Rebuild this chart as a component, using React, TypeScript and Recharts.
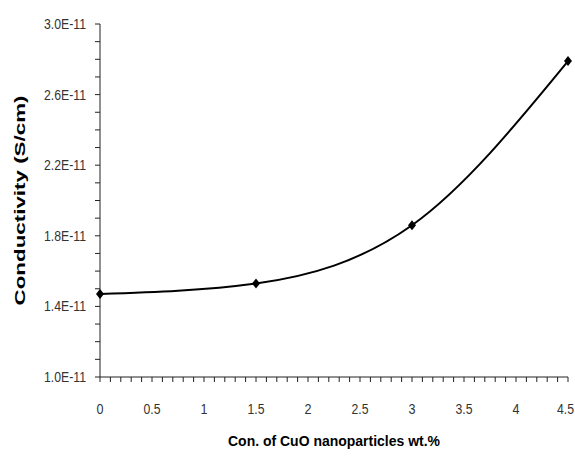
import { LineChart, Line, XAxis, YAxis, Label } from 'recharts';

// CuO loading (wt.%) and conductivity in units of 1E-11 S/cm
const concentration = [0, 1.5, 3, 4.5];
const conductivityE11 = [1.47, 1.53, 1.86, 2.79];

const xMajorTicks = [0, 0.5, 1, 1.5, 2, 2.5, 3, 3.5, 4, 4.5];
const yMajorTicks = [1.0, 1.4, 1.8, 2.2, 2.6, 3.0];

const xLabel = 'Con. of CuO nanoparticles wt.%';
const yLabel = 'Conductivity (S/cm)';

const data = concentration.map((c, i) => ({ c, v: conductivityE11[i] }));

// minor ticks every 0.1 on both axes
const xTicks: number[] = [];
for (let i = 0; i <= 45; i++) xTicks.push(i / 10);
const yTicks: number[] = [];
for (let i = 10; i <= 30; i++) yTicks.push(i / 10);

const isMajor = (v: number, majors: number[]) =>
  majors.some((m) => Math.abs(m - v) < 1e-6);

const FONT = '"Liberation Sans", Arial, sans-serif';

// narrow-looking tick text, squeezed horizontally like the original
const XTick = (props: any) => {
  const { x, y, payload } = props;
  const v = payload.value as number;
  if (!isMajor(v, xMajorTicks)) return null;
  const s = String(v);
  const w = s.length === 1 ? 7 : 17;
  // keep the last label inside the picture
  const cx = Math.min(x, 574 - w / 2);
  return (
    <text
      x={cx}
      y={y + 18}
      textAnchor="middle"
      dominantBaseline="central"
      fontFamily={FONT}
      fontSize={15}
      fill="#333"
      textLength={w}
      lengthAdjust="spacingAndGlyphs"
    >
      {s}
    </text>
  );
};

const YTick = (props: any) => {
  const { x, y, payload } = props;
  const v = payload.value as number;
  if (!isMajor(v, yMajorTicks)) return null;
  return (
    <text
      x={x - 1}
      y={y}
      textAnchor="end"
      dominantBaseline="central"
      fontFamily={FONT}
      fontSize={14}
      fill="#333"
      textLength={42}
      lengthAdjust="spacingAndGlyphs"
    >
      {`${v.toFixed(1)}E-11`}
    </text>
  );
};

const Diamond = (props: any) => {
  const { cx, cy } = props;
  if (cx == null || cy == null) return null;
  return (
    <polygon
      points={`${cx},${cy - 5} ${cx + 4},${cy} ${cx},${cy + 5} ${cx - 4},${cy}`}
      fill="#000"
    />
  );
};

export default function App() {
  return (
    <div style={{ position: 'absolute', left: 0, top: 0, background: '#fff' }}>
      <LineChart
        width={575}
        height={458}
        data={data}
        margin={{ top: 24, right: 7, bottom: 0, left: 0 }}
      >
        <XAxis
          dataKey="c"
          type="number"
          domain={[0, 4.5]}
          ticks={xTicks}
          interval={0}
          height={81}
          stroke="#222"
          tickSize={5}
          tickMargin={8}
          tick={<XTick />}
        >
          <Label
            content={({ viewBox }: any) => (
              <text
                x={viewBox.x + viewBox.width / 2}
                y={440}
                textAnchor="middle"
                dominantBaseline="central"
                fontFamily={FONT}
                fontWeight="bold"
                fontSize={15}
                textLength={212}
                lengthAdjust="spacingAndGlyphs"
                fill="#000"
              >
                {xLabel}
              </text>
            )}
          />
        </XAxis>
        <YAxis
          type="number"
          domain={[1, 3]}
          ticks={yTicks}
          interval={0}
          width={100}
          stroke="#222"
          tickSize={5}
          tickMargin={8}
          tick={<YTick />}
        >
          <Label
            content={({ viewBox }: any) => {
              const cx = 20;
              const cy = viewBox.y + viewBox.height / 2;
              return (
                <text
                  x={cx}
                  y={cy}
                  transform={`rotate(-90 ${cx} ${cy})`}
                  textAnchor="middle"
                  dominantBaseline="central"
                  fontFamily={FONT}
                  fontWeight="bold"
                  fontSize={14}
                  textLength={210}
                  lengthAdjust="spacingAndGlyphs"
                  fill="#000"
                >
                  {yLabel}
                </text>
              );
            }}
          />
        </YAxis>
        <Line
          type="monotone"
          dataKey="v"
          stroke="#000"
          strokeWidth={2}
          dot={<Diamond />}
          activeDot={false}
          isAnimationActive={false}
        />
      </LineChart>
    </div>
  );
}
